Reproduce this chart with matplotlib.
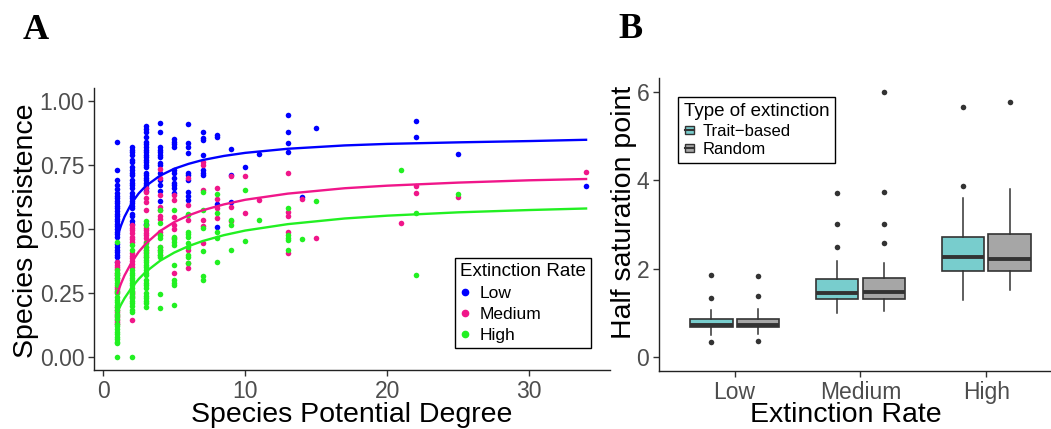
import matplotlib
matplotlib.use("Agg")
import matplotlib.pyplot as plt
from matplotlib.legend_handler import HandlerBase
from matplotlib.patches import Rectangle
from matplotlib.lines import Line2D
from matplotlib.ticker import FormatStrFormatter

plt.rcParams['font.family'] = ['Liberation Sans', 'DejaVu Sans']

# ---------------- Panel A: species persistence vs potential degree ----------
# one list of persistence values per degree
low_deg = [1, 2, 3, 4, 5, 6, 7, 8, 9, 10, 11, 13, 14, 15, 22, 25, 34]
low_pers = [
    [0.84, 0.73, 0.69, 0.67, 0.655, 0.64, 0.63, 0.62, 0.61, 0.60, 0.59, 0.58,
     0.57, 0.56, 0.55, 0.54, 0.53, 0.52, 0.51, 0.50, 0.49, 0.48, 0.47, 0.44,
     0.43, 0.42, 0.41, 0.40, 0.39, 0.37],
    [0.82, 0.81, 0.80, 0.79, 0.77, 0.76, 0.74, 0.73, 0.72, 0.71, 0.69, 0.68,
     0.67, 0.66, 0.64, 0.63, 0.62, 0.61, 0.60, 0.59, 0.58, 0.56, 0.55, 0.53,
     0.52],
    [0.90, 0.89, 0.88, 0.86, 0.84, 0.83, 0.82, 0.81, 0.80, 0.79, 0.78, 0.77,
     0.76, 0.75, 0.74, 0.72, 0.71, 0.70, 0.69, 0.68, 0.67, 0.66, 0.65, 0.52],
    [0.915, 0.88, 0.82, 0.81, 0.80, 0.79, 0.78, 0.757, 0.75, 0.72, 0.69,
     0.67, 0.65, 0.61],
    [0.85, 0.84, 0.83, 0.82, 0.73, 0.72, 0.70, 0.68, 0.67, 0.66, 0.64],
    [0.91, 0.835, 0.82, 0.795, 0.717, 0.71, 0.69, 0.646, 0.63, 0.613],
    [0.88, 0.855, 0.847, 0.79, 0.73, 0.72, 0.71],
    [0.867, 0.858, 0.598, 0.509],
    [0.812, 0.71, 0.607],
    [0.743],
    [0.793],
    [0.943, 0.88, 0.835, 0.80],
    [0.623],
    [0.893],
    [0.923, 0.858],
    [0.793],
    [0.668],
]

med_deg = [1, 2, 3, 4, 5, 6, 7, 8, 9, 10, 11, 13, 14, 15, 21, 22, 25, 34]
med_pers = [
    [0.372, 0.36, 0.353, 0.345, 0.33, 0.32, 0.31, 0.275, 0.265, 0.255, 0.196,
     0.185, 0.175, 0.164, 0.155, 0.145, 0.138, 0.13],
    [0.516, 0.505, 0.495, 0.483, 0.47, 0.46, 0.45, 0.405, 0.395, 0.385,
     0.375, 0.365, 0.353, 0.255, 0.245, 0.235, 0.145],
    [0.66, 0.646, 0.62, 0.607, 0.574, 0.516, 0.505, 0.495, 0.485, 0.475,
     0.465, 0.45, 0.43, 0.42, 0.405, 0.39],
    [0.733, 0.70, 0.633, 0.587, 0.574, 0.55, 0.54, 0.49, 0.476, 0.43, 0.418,
     0.40],
    [0.633, 0.613, 0.548, 0.516, 0.50, 0.463, 0.327],
    [0.70, 0.594, 0.535, 0.418, 0.366, 0.346],
    [0.763, 0.75, 0.652, 0.535, 0.513, 0.444],
    [0.659, 0.616, 0.58, 0.542],
    [0.705, 0.585, 0.53],
    [0.707, 0.561],
    [0.613],
    [0.72, 0.565, 0.55, 0.49, 0.405],
    [0.616],
    [0.463],
    [0.522],
    [0.668, 0.642],
    [0.624],
    [0.724],
]

high_deg = [1, 2, 3, 4, 5, 6, 7, 8, 9, 10, 11, 13, 14, 15, 21, 22, 25, 34]
high_pers = [
    [0.45, 0.34, 0.33, 0.32, 0.31, 0.30, 0.29, 0.28, 0.26, 0.25, 0.235,
     0.225, 0.215, 0.205, 0.195, 0.184, 0.17, 0.16, 0.15, 0.13, 0.12, 0.11,
     0.10, 0.09, 0.08, 0.07, 0.06, 0.054, 0.0],
    [0.437, 0.418, 0.34, 0.33, 0.32, 0.31, 0.30, 0.29, 0.28, 0.27, 0.26,
     0.25, 0.24, 0.23, 0.22, 0.21, 0.20, 0.184, 0.177, 0.0],
    [0.53, 0.516, 0.444, 0.43, 0.42, 0.41, 0.40, 0.39, 0.38, 0.37, 0.36,
     0.35, 0.34, 0.33, 0.32, 0.30, 0.29, 0.28, 0.27, 0.25, 0.24, 0.23, 0.22,
     0.21, 0.196],
    [0.574, 0.522, 0.476, 0.465, 0.43, 0.42, 0.41, 0.40, 0.39, 0.248, 0.19],
    [0.574, 0.47, 0.46, 0.45, 0.437, 0.36, 0.30, 0.29, 0.28, 0.205],
    [0.56, 0.555, 0.49, 0.48, 0.47, 0.444, 0.43, 0.40, 0.39, 0.366],
    [0.643, 0.574, 0.502, 0.414, 0.316, 0.30],
    [0.635, 0.561, 0.487, 0.463, 0.37],
    [0.535, 0.516, 0.42],
    [0.652, 0.455],
    [0.535],
    [0.58, 0.476, 0.466, 0.458, 0.418],
    [0.46],
    [0.61],
    [0.73],
    [0.564, 0.32],
    [0.637],
    [0.362],
]

# fitted saturation curves
curve_deg = [1, 1.25, 1.5, 2, 2.5, 3, 4, 5, 6, 7, 8.5, 10, 13, 17, 20, 25,
             30, 34]
curve_low = [0.470, 0.513, 0.548, 0.601, 0.639, 0.668, 0.708, 0.735, 0.754,
             0.769, 0.785, 0.797, 0.813, 0.826, 0.832, 0.838, 0.843, 0.848]
curve_med = [0.250, 0.287, 0.319, 0.370, 0.411, 0.443, 0.492, 0.527, 0.553,
             0.573, 0.596, 0.614, 0.638, 0.659, 0.669, 0.681, 0.690, 0.695]
curve_high = [0.177, 0.205, 0.230, 0.271, 0.305, 0.333, 0.376, 0.408, 0.433,
              0.453, 0.476, 0.494, 0.519, 0.541, 0.552, 0.565, 0.574, 0.580]

rate_labels = ["Low", "Medium", "High"]
rate_colors = ["#0000FF", "#F0168A", "#22F022"]

# ---------------- Panel B: half saturation point boxplots ------------------
box_groups = ["Low", "Medium", "High"]
type_labels = ["Trait\u2212based", "Random"]
type_colors = ["#78CDCD", "#A6A6A6"]

trait_q1 = [0.68, 1.31, 1.96]
trait_med = [0.74, 1.46, 2.26]
trait_q3 = [0.86, 1.76, 2.72]
trait_lo = [0.50, 0.99, 1.29]
trait_hi = [1.06, 2.17, 3.59]
trait_out = [[1.85, 1.34, 0.34], [2.50, 3.02, 3.72], [3.88, 5.65]]

rand_q1 = [0.68, 1.31, 1.96]
rand_med = [0.74, 1.48, 2.23]
rand_q3 = [0.87, 1.79, 2.78]
rand_lo = [0.52, 1.05, 1.52]
rand_hi = [1.08, 2.14, 3.80]
rand_out = [[1.83, 1.39, 0.36], [2.58, 3.02, 3.74, 5.99], [5.77]]


def flatten(degs, groups):
    xs, ys = [], []
    for d, g in zip(degs, groups):
        xs += [d] * len(g)
        ys += list(g)
    return xs, ys


def box_stats(q1, med, q3, lo, hi, out):
    return [dict(q1=a, med=b, q3=c, whislo=d, whishi=e, fliers=f)
            for a, b, c, d, e, f in zip(q1, med, q3, lo, hi, out)]


class BoxGlyph(HandlerBase):
    def create_artists(self, legend, orig_handle, xdescent, ydescent,
                       width, height, fontsize, trans):
        fc = orig_handle.get_facecolor()
        w = width * 0.8
        x0 = -xdescent + (width - w) / 2
        h = height * 0.7
        y0 = -ydescent + (height - h) / 2
        rect = Rectangle((x0, y0), w, h, facecolor=fc, edgecolor="#333333",
                         lw=1.0, transform=trans)
        mid = Line2D([x0, x0 + w], [y0 + h / 2] * 2, color="#333333", lw=1.5,
                     transform=trans)
        return [rect, mid]


W, H = 1051, 429
fig = plt.figure(figsize=(W / 100, H / 100), dpi=100)


def px_axes(left, top, right, bottom):
    return fig.add_axes([left / W, 1 - bottom / H, (right - left) / W,
                         (bottom - top) / H])


axA = px_axes(94, 88, 609.5, 370)
axB = px_axes(659, 78, 1062, 371)

for ax in (axA, axB):
    for s in ("top", "right"):
        ax.spines[s].set_visible(False)
    for s in ("left", "bottom"):
        ax.spines[s].set_color("#222222")
        ax.spines[s].set_linewidth(1.0)
    ax.tick_params(labelsize=16.5, labelcolor="#4D4D4D", color="#333333",
                   length=4, width=1.0, pad=3)

# panel A
for degs, groups, col in zip([low_deg, med_deg, high_deg],
                             [low_pers, med_pers, high_pers], rate_colors):
    xs, ys = flatten(degs, groups)
    axA.scatter(xs, ys, s=16, color=col, linewidths=0, zorder=2)

for ys, col in zip([curve_low, curve_med, curve_high], rate_colors):
    axA.plot(curve_deg, ys, color=col, lw=1.7, zorder=3)

axA.set_xlim(-0.65, 35.65)
axA.set_ylim(-0.05, 1.05)
axA.set_xticks([0, 10, 20, 30])
axA.set_yticks([0, 0.25, 0.5, 0.75, 1.0])
axA.yaxis.set_major_formatter(FormatStrFormatter("%.2f"))

handles = [Line2D([], [], ls="none", marker="o", ms=4.5, color=c)
           for c in rate_colors]
legA = axA.legend(handles, rate_labels, title="Extinction Rate",
                  loc="upper left", bbox_to_anchor=(455 / W, 1 - 258 / H),
                  bbox_transform=fig.transFigure, fancybox=False,
                  edgecolor="black", framealpha=1, fontsize=12.5,
                  title_fontsize=13.5, borderaxespad=0, borderpad=0.3,
                  labelspacing=0.33, handlelength=0.6, handletextpad=0.5,
                  alignment="left")
legA.get_frame().set_linewidth(1.0)

# panel B
offset = 0.186
bw = 0.34
common = dict(widths=bw, patch_artist=True, showcaps=False,
              medianprops=dict(color="#333333", lw=2.8),
              boxprops=dict(edgecolor="#333333", lw=1.2),
              whiskerprops=dict(color="#333333", lw=1.1),
              flierprops=dict(marker="o", ms=4, markerfacecolor="#333333",
                              markeredgecolor="none"))
pos = [1, 2, 3]
bt = axB.bxp(box_stats(trait_q1, trait_med, trait_q3, trait_lo, trait_hi,
                       trait_out),
             positions=[p - offset for p in pos], **common)
br = axB.bxp(box_stats(rand_q1, rand_med, rand_q3, rand_lo, rand_hi,
                       rand_out),
             positions=[p + offset for p in pos], **common)
for b in bt["boxes"]:
    b.set_facecolor(type_colors[0])
for b in br["boxes"]:
    b.set_facecolor(type_colors[1])

axB.set_xlim(0.4, 3.6)
axB.set_ylim(-0.31, 6.31)
axB.set_xticks(pos)
axB.set_xticklabels(box_groups)
axB.set_yticks([0, 2, 4, 6])

legB = axB.legend([Rectangle((0, 0), 1, 1, facecolor=c) for c in type_colors],
                  type_labels, title="Type of extinction",
                  handler_map={Rectangle: BoxGlyph()},
                  loc="upper left", bbox_to_anchor=(678 / W, 1 - 97 / H),
                  bbox_transform=fig.transFigure, fancybox=False,
                  edgecolor="black", framealpha=1, fontsize=12,
                  title_fontsize=13.5, borderaxespad=0, borderpad=0.35,
                  labelspacing=0.22, handlelength=0.7, handletextpad=0.4,
                  alignment="left")
legB.get_frame().set_linewidth(1.0)

# titles and panel letters
title_kw = dict(size=20.5, color="black")
fig.text(352 / W, 1 - 421.5 / H, "Species Potential Degree", ha="center",
         va="baseline", **title_kw)
fig.text(846 / W, 1 - 421.5 / H, "Extinction Rate", ha="center",
         va="baseline", **title_kw)
fig.text(33 / W, 1 - 231 / H, "Species persistence", rotation=90,
         rotation_mode="anchor", ha="center", va="baseline", **title_kw)
fig.text(631 / W, 1 - 212 / H, "Half saturation point", rotation=90,
         rotation_mode="anchor", ha="center", va="baseline", **title_kw)

letter_kw = dict(size=26, weight="bold", family="Liberation Serif",
                 ha="center", va="baseline")
fig.text(35.5 / W, 1 - 39 / H, "A", **letter_kw)
fig.text(630.5 / W, 1 - 38 / H, "B", **letter_kw)

fig.savefig("out.png", dpi=100)
